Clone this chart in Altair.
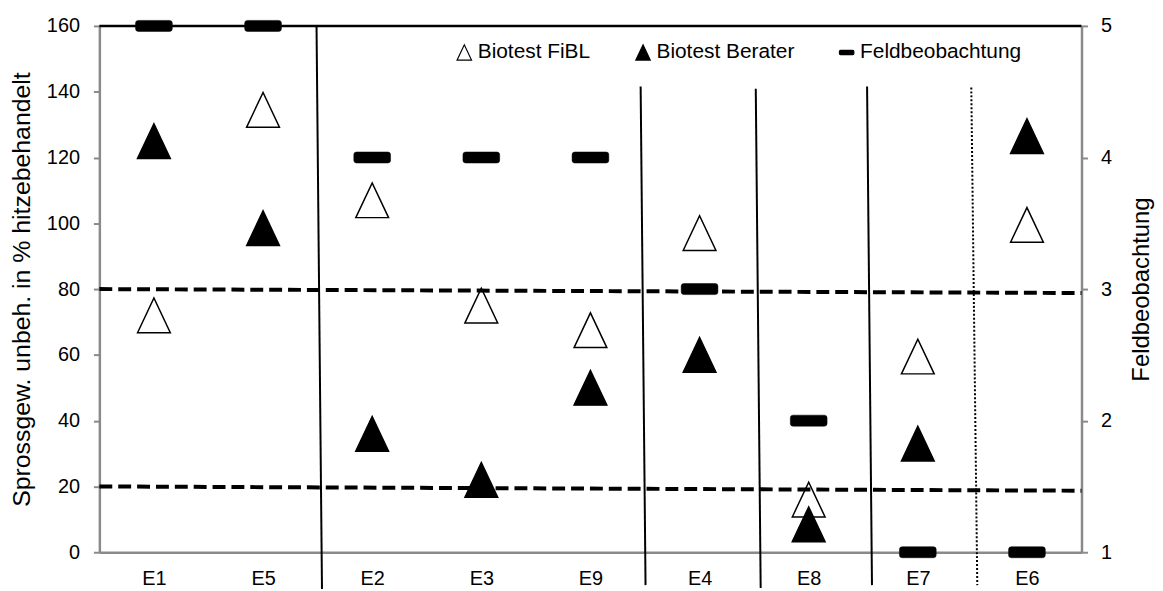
import altair as alt
import pandas as pd

# ---------------- data ----------------
categories = ["E1", "E5", "E2", "E3", "E9", "E4", "E8", "E7", "E6"]
fibl = [72, 134.5, 107, 75, 67.5, 97, 16, 59.5, 99.5]        # open triangles (left axis)
berater = [125, 98.5, 36, 22, 50, 60, 8.5, 33, 126.5]         # filled triangles (left axis)
feld = [5, 5, 4, 4, 4, 3, 2, 1, 1]                            # dashes (right axis)
series_names = ["Biotest FiBL", "Biotest Berater", "Feldbeobachtung"]

left_ticks = [0, 20, 40, 60, 80, 100, 120, 140, 160]
right_ticks = [1, 2, 3, 4, 5]

# separator lines (x in category-slot units, y in left-axis units)
sep_x1 = [1.99, 4.96, 6.015, 7.035]
sep_x2 = [2.04, 5.005, 6.06, 7.08]
sep_y1 = [160, 141.6, 140.9, 141.6]
sep_y2 = [-11.2, -10, -10.9, -10]
dot_x1 = [7.99]
dot_x2 = [8.045]
dot_y1 = [141.3]
dot_y2 = [-10]
# dashed threshold lines
thr_x1 = [0, 0]
thr_x2 = [9, 9]
thr_y1 = [80, 20]
thr_y2 = [78.8, 18.7]
# top frame line
top_x1 = [0]
top_x2 = [9]
top_y = [160]

# ---------------- tables ----------------
slot = [i + 0.5 for i in range(len(categories))]
tri_df = pd.DataFrame({
    "pos": slot * 2,
    "cat": categories * 2,
    "value": fibl + berater,
    "series": [series_names[0]] * len(categories) + [series_names[1]] * len(categories),
})
feld_df = pd.DataFrame({
    "pos": slot, "cat": categories, "value": feld,
    "series": [series_names[2]] * len(categories),
})
sep_df = pd.DataFrame({"x1": sep_x1, "x2": sep_x2, "y1": sep_y1, "y2": sep_y2})
dot_df = pd.DataFrame({"x1": dot_x1, "x2": dot_x2, "y1": dot_y1, "y2": dot_y2})
thr_df = pd.DataFrame({"x1": thr_x1, "x2": thr_x2, "y1": thr_y1, "y2": thr_y2})
top_df = pd.DataFrame({"x1": top_x1, "x2": top_x2, "y1": top_y, "y2": top_y})

# ---------------- scales / axes ----------------
FONT = "Liberation Sans"
GRAY = "#8a8a8a"
x_scale = alt.Scale(domain=[0, len(categories)], nice=False, zero=False)
yl_scale = alt.Scale(domain=[0, 160], nice=False, zero=False)
yr_scale = alt.Scale(domain=[1, 5], nice=False, zero=False)

label_expr = "[" + ",".join("'%s'" % c for c in categories) + "][floor(datum.value)]"
x_axis = alt.Axis(values=slot, labelExpr=label_expr, title=None, ticks=False, tickSize=0,
                  grid=False, domainColor=GRAY, domainWidth=2.5, labelFontSize=20,
                  labelPadding=16, labelColor="black", labelFont=FONT)

tri = "M-1,1.06L0,-1.06L1,1.06Z"
dash = ("M-0.85,-0.3L0.85,-0.3Q1,-0.3 1,-0.15L1,0.15Q1,0.3 0.85,0.3"
        "L-0.85,0.3Q-1,0.3 -1,0.15L-1,-0.15Q-1,-0.3 -0.85,-0.3Z")
shape_scale = alt.Scale(domain=series_names, range=[tri, tri, dash])
fill_scale = alt.Scale(domain=series_names, range=["white", "black", "black"])
stroke_scale = alt.Scale(domain=series_names, range=["black", "black", "black"])

legend = alt.Legend(orient="none", legendX=357, legendY=16, direction="horizontal",
                    title=None, labelFontSize=21, labelFont=FONT, labelColor="black",
                    labelLimit=400, symbolSize=210, symbolStrokeColor="black",
                    symbolStrokeWidth=1.2, labelOffset=3, columnPadding=42,
                    symbolOpacity=1)

left_axis = alt.Axis(values=left_ticks, orient="left", grid=False, domainColor=GRAY,
                     domainWidth=2.5, tickColor=GRAY, tickWidth=2, tickSize=6,
                     labelPadding=14, labelFontSize=20, labelFont=FONT, labelColor="black",
                     title="Sprossgew. unbeh. in % hitzebehandelt", titleFontSize=25,
                     titleFont=FONT, titleFontWeight="normal", titleColor="black",
                     titlePadding=12)
right_axis = alt.Axis(values=right_ticks, orient="right", grid=False, domainColor=GRAY,
                      domainWidth=2.5, tickColor=GRAY, tickWidth=2, tickSize=6,
                      labelPadding=13, labelFontSize=20, labelFont=FONT, labelColor="black",
                      title="Feldbeobachtung", titleFontSize=24, titleFont=FONT,
                      titleFontWeight="normal", titleColor="black", titleAngle=270,
                      titleBaseline="top", titlePadding=18)

# ---------------- layers ----------------
tri_layer = alt.Chart(tri_df).mark_point(
    filled=True, strokeWidth=1.5, opacity=1, size=1089
).encode(
    x=alt.X("pos:Q", scale=x_scale, axis=x_axis),
    y=alt.Y("value:Q", scale=yl_scale, axis=left_axis),
    shape=alt.Shape("series:N", scale=shape_scale, legend=legend),
    fill=alt.Fill("series:N", scale=fill_scale, legend=legend),
    stroke=alt.Stroke("series:N", scale=stroke_scale, legend=legend),
)

def rule_layer(df, **mk):
    return alt.Chart(df).mark_rule(color="black", clip=False, **mk).encode(
        x=alt.X("x1:Q", scale=x_scale, axis=x_axis),
        x2="x2:Q",
        y=alt.Y("y1:Q", scale=yl_scale, axis=None),
        y2="y2:Q",
    )

thr_layer = rule_layer(thr_df, strokeWidth=4, strokeDash=[13, 6])
sep_layer = rule_layer(sep_df, strokeWidth=2)
dot_layer = rule_layer(dot_df, strokeWidth=2, strokeDash=[2, 2])
top_layer = rule_layer(top_df, strokeWidth=2.5)

feld_layer = alt.Chart(feld_df).mark_point(
    filled=True, strokeWidth=0.5, opacity=1, size=1369
).encode(
    x=alt.X("pos:Q", scale=x_scale, axis=x_axis),
    y=alt.Y("value:Q", scale=yr_scale, axis=right_axis),
    shape=alt.Shape("series:N", scale=shape_scale, legend=legend),
    fill=alt.Fill("series:N", scale=fill_scale, legend=legend),
    stroke=alt.Stroke("series:N", scale=stroke_scale, legend=legend),
)

chart = alt.layer(
    tri_layer, thr_layer, sep_layer, dot_layer, top_layer, feld_layer
).resolve_scale(y="independent").properties(
    width=989, height=530,
    autosize=alt.AutoSizeParams(type="none"),
    padding={"left": 92, "top": 16, "right": 74, "bottom": 37},
).configure_view(stroke=None).configure(font=FONT)

chart.save("out.html", embed_options={"renderer": "svg", "actions": False})
